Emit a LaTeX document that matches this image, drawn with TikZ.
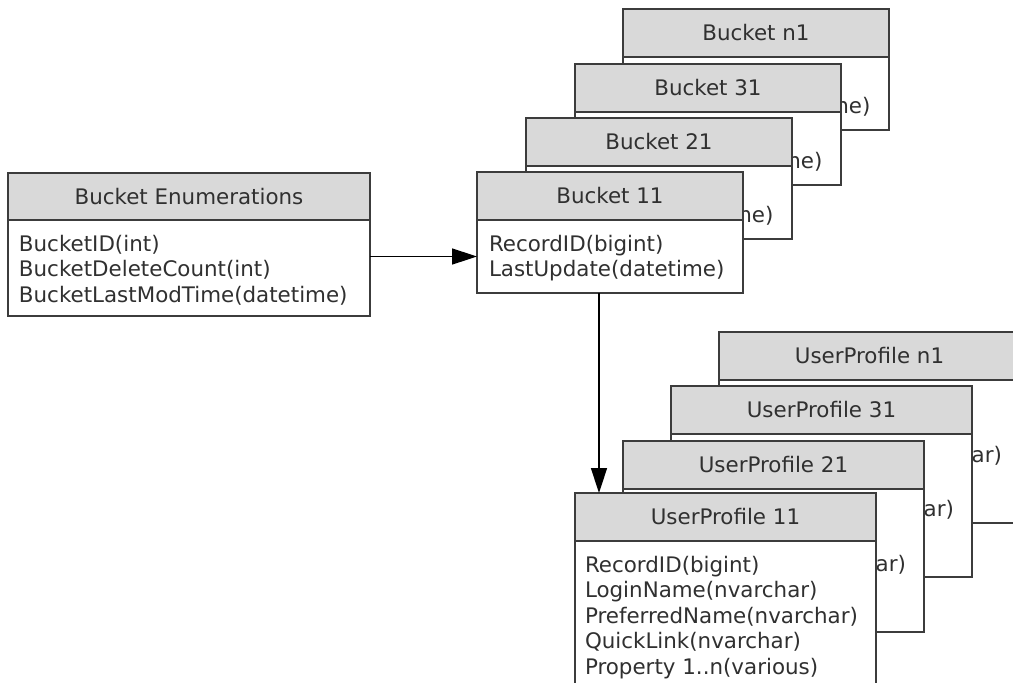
\documentclass[tikz,border=0pt]{standalone}
\usepackage{fontspec}
\setmainfont{DejaVu Sans}
\usetikzlibrary{arrows.meta,calc}
\definecolor{hdrgray}{HTML}{D9D9D9}
\definecolor{linec}{HTML}{3C3C3C}
\definecolor{txtc}{HTML}{303030}
\newcommand\bucketbox[4]{%
  \node[hdr, minimum width=266pt] (#1h) at (#2,#3) {#4};
  \node[bodybox, minimum width=266pt, minimum height=73pt] (#1b) at (#1h.south west) {};
  \node[bodytext] (#1t) at ($(#1b.north west)+(12,15)$) {RecordID(bigint)\\LastUpdate(datetime)};
}
\newcommand\userbox[4]{%
  \node[hdr, minimum width=301pt] (#1h) at (#2,#3) {#4};
  \node[bodybox, minimum width=301pt, minimum height=143pt] (#1b) at (#1h.south west) {};
  \node[bodytext] (#1t) at ($(#1b.north west)+(10,15)$) {RecordID(bigint)\\LoginName(nvarchar)\\PreferredName(nvarchar)\\QuickLink(nvarchar)\\Property 1..n(various)};
}
\begin{document}
\begin{tikzpicture}[x=1pt,y=-1pt,
  tfont/.style={font=\fontsize{21.4}{25.5}\selectfont, text=txtc},
  hdr/.style={draw=linec, fill=hdrgray, line width=1.7pt, anchor=north west, inner sep=0pt, outer sep=0pt, minimum height=48pt, tfont},
  bodybox/.style={draw=linec, fill=white, line width=1.7pt, anchor=north west, inner sep=0pt, outer sep=0pt},
  bodytext/.style={anchor=north west, inner sep=0pt, outer sep=0pt, align=left, tfont},
  arr/.style={-{Triangle[length=25pt,width=16pt]}, line width=1.5pt, draw=black}
]
\useasboundingbox (0,0) rectangle (1013,683);
\clip (0,0) rectangle (1013,683);

% Bucket Enumerations
\node[hdr, minimum width=362pt, minimum height=47pt] (beh) at (8,173) {Bucket Enumerations};
\node[bodybox, minimum width=362pt, minimum height=96pt] (beb) at (beh.south west) {};
\node[bodytext] (bet) at ($(beb.north west)+(11,15)$) {BucketID(int)\\BucketDeleteCount(int)\\BucketLastModTime(datetime)};

% Bucket stack (back to front)
\bucketbox{bn}{623}{9}{Bucket n1}
\bucketbox{b3}{575}{64}{Bucket 31}
\bucketbox{b2}{526}{118}{Bucket 21}
\bucketbox{b1}{477}{172}{Bucket 11}

% UserProfile stack (back to front)
\userbox{un}{719}{332}{UserProfile n1}
\userbox{u3}{671}{386}{UserProfile 31}
\userbox{u2}{623}{441}{UserProfile 21}
\userbox{u1}{575}{493}{UserProfile 11}

% connectors
\draw[arr] (beb.east |- b1b.west) -- (b1b.west);
\coordinate (vx) at ($(u1h.north west)+(24,0)$);
\draw[arr] (b1b.south -| vx) -- (vx);
\end{tikzpicture}
\end{document}
